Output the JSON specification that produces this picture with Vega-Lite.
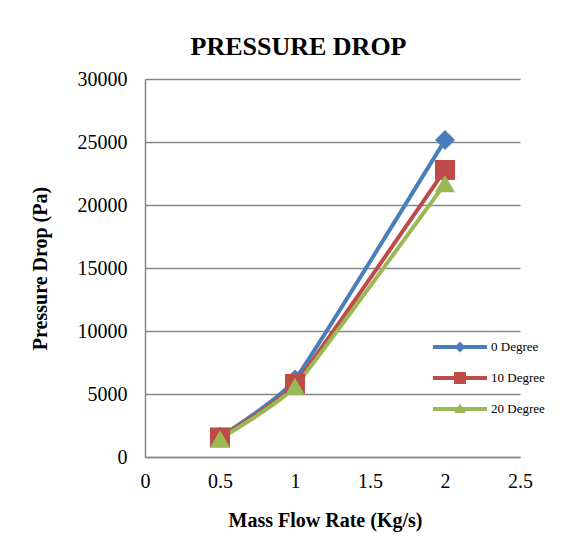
{
  "$schema": "https://vega.github.io/schema/vega-lite/v6.json",
  "width": 375,
  "height": 378,
  "autosize": "none",
  "padding": {"left": 145, "top": 79, "right": 59, "bottom": 97},
  "background": "white",
  "title": {
    "text": "PRESSURE DROP",
    "font": "Liberation Serif",
    "fontSize": 26,
    "fontWeight": "bold",
    "color": "black",
    "dx": -34,
    "offset": 9
  },
  "data": {
    "values": [
      {"flow": 0.5, "dp": 1600, "series": "0 Degree"},
      {"flow": 1, "dp": 6150, "series": "0 Degree"},
      {"flow": 2, "dp": 25150, "series": "0 Degree"},
      {"flow": 0.5, "dp": 1550, "series": "10 Degree"},
      {"flow": 1, "dp": 5800, "series": "10 Degree"},
      {"flow": 2, "dp": 22780, "series": "10 Degree"},
      {"flow": 0.5, "dp": 1450, "series": "20 Degree"},
      {"flow": 1, "dp": 5600, "series": "20 Degree"},
      {"flow": 2, "dp": 21700, "series": "20 Degree"}
    ]
  },
  "encoding": {
    "x": {
      "field": "flow", "type": "quantitative",
      "scale": {"domain": [0, 2.5], "nice": false, "zero": true},
      "axis": {
        "title": "Mass Flow Rate (Kg/s)",
        "values": [0, 0.5, 1, 1.5, 2, 2.5],
        "format": "~g",
        "grid": false, "ticks": false,
        "domainColor": "#868686", "domainWidth": 1.5,
        "labelFont": "Liberation Serif", "labelFontSize": 20, "labelColor": "black",
        "labelPadding": 14, "labelFlush": false,
        "titleFont": "Liberation Serif", "titleFontSize": 20, "titleFontWeight": "bold",
        "titleColor": "black", "titleX": 180, "titleY": 53, "titleBaseline": "top", "titleAnchor": "middle"
      }
    },
    "y": {
      "field": "dp", "type": "quantitative",
      "scale": {"domain": [0, 30000], "nice": false},
      "axis": {
        "title": "Pressure Drop (Pa)",
        "values": [0, 5000, 10000, 15000, 20000, 25000, 30000],
        "format": "d",
        "grid": true, "gridColor": "#868686", "gridWidth": 1.5,
        "ticks": false,
        "domainColor": "#868686", "domainWidth": 1.5,
        "labelFont": "Liberation Serif", "labelFontSize": 20, "labelColor": "black",
        "labelPadding": 18,
        "titleFont": "Liberation Serif", "titleFontSize": 20, "titleFontWeight": "bold",
        "titleColor": "black", "titleX": -105, "titleY": 189, "titleBaseline": "middle", "titleAnchor": "middle"
      }
    },
    "color": {
      "field": "series", "type": "nominal",
      "scale": {"domain": ["0 Degree", "10 Degree", "20 Degree"], "range": ["#4A7EBB", "#BE4B48", "#98B954"]},
      "legend": {
        "title": null,
        "orient": "none",
        "legendX": 288,
        "legendY": 259,
        "labelFont": "Liberation Serif", "labelFontSize": 13, "labelColor": "black",
        "labelOffset": 4,
        "rowPadding": 13,
        "clipHeight": 18,
        "symbolSize": 2916,
        "symbolStrokeWidth": 0,
        "symbolType": "M-1,-0.075L1,-0.075L1,0.075L-1,0.075Z",
        "encode": {
          "symbols": {
            "update": {
              "shape": {"signal": "datum.value === '0 Degree' ? 'M-1,-0.075L1,-0.075L1,0.075L-1,0.075Z M0,-0.2L0.2,0L0,0.2L-0.2,0Z' : datum.value === '10 Degree' ? 'M-1,-0.075L1,-0.075L1,0.075L-1,0.075Z M-0.22,-0.22L0.22,-0.22L0.22,0.22L-0.22,0.22Z' : 'M-1,-0.075L1,-0.075L1,0.075L-1,0.075Z M0,-0.2L0.22,0.15L-0.22,0.15Z'"},
              "fill": {"scale": "color", "field": "value"},
              "fillOpacity": {"value": 1},
              "strokeWidth": {"value": 0}
            }
          }
        }
      }
    }
  },
  "layer": [
    {
      "mark": {"type": "line", "strokeWidth": 4, "interpolate": "cardinal", "tension": 0.6}
    },
    {
      "transform": [{"filter": "datum.series === '0 Degree'"}],
      "mark": {"type": "point", "shape": "diamond", "filled": true, "opacity": 1, "size": 400}
    },
    {
      "transform": [{"filter": "datum.series === '10 Degree'"}],
      "mark": {"type": "point", "shape": "square", "filled": true, "opacity": 1, "size": 400}
    },
    {
      "transform": [{"filter": "datum.series === '20 Degree'"}],
      "mark": {"type": "point", "shape": "triangle-up", "filled": true, "opacity": 1, "size": 400}
    }
  ],
  "config": {
    "view": {"stroke": null}
  }
}
